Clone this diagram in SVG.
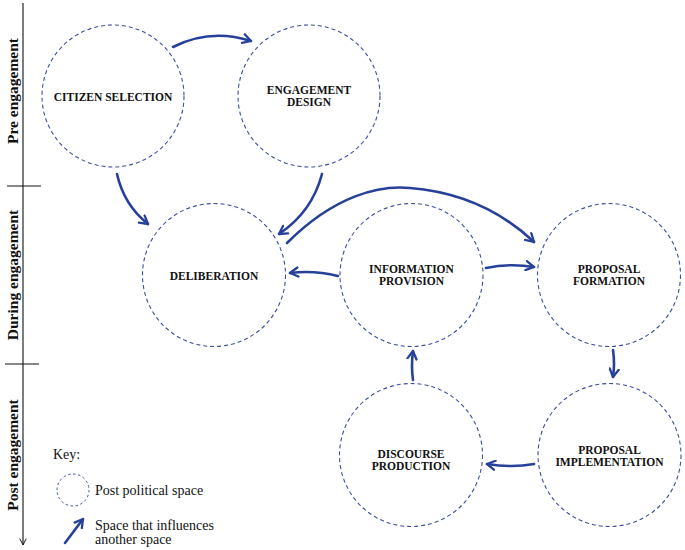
<svg xmlns="http://www.w3.org/2000/svg" width="685" height="550" viewBox="0 0 685 550">
<style>
.node{fill:none;stroke:#3b4f9c;stroke-width:1.1;stroke-dasharray:4 3}
.lbl{font-family:"Liberation Serif","Times New Roman",serif;font-weight:bold;font-size:11.5px;fill:#111;text-anchor:middle}
.phase{font-family:"Liberation Serif","Times New Roman",serif;font-weight:bold;font-size:15.5px;fill:#111;text-anchor:middle}
.key{font-family:"Liberation Serif","Times New Roman",serif;font-size:14px;fill:#111}
.conn{fill:none;stroke:#27419a;stroke-width:2.6;stroke-linecap:round;marker-end:url(#ah)}
</style>
<defs>
<marker id="ah" viewBox="0 0 10 10" refX="8" refY="5" markerWidth="4.4" markerHeight="4.4" orient="auto" markerUnits="strokeWidth">
<path d="M1,1 L8,5 L1,9" fill="none" stroke="#27419a" stroke-width="2" stroke-linecap="round" stroke-linejoin="round"/>
</marker>
<marker id="axh" viewBox="0 0 10 10" refX="9" refY="5" markerWidth="8" markerHeight="8" orient="auto" markerUnits="userSpaceOnUse">
<path d="M1,1 L9,5 L1,9" fill="none" stroke="#111" stroke-width="1.2"/>
</marker>
</defs>
<rect width="685" height="550" fill="#fff"/>
<g id="axis">
<line x1="23" y1="3" x2="23" y2="545" stroke="#111" stroke-width="1.1" marker-end="url(#axh)"/>
<line x1="7" y1="186" x2="41" y2="186" stroke="#111" stroke-width="1.1"/>
<line x1="5" y1="364" x2="39" y2="364" stroke="#111" stroke-width="1.1"/>
<text class="phase" transform="translate(18,91) rotate(-90)">Pre engagement</text>
<text class="phase" transform="translate(18,275) rotate(-90)">During engagement</text>
<text class="phase" transform="translate(18,455) rotate(-90)">Post engagement</text>
</g>
<g id="citizen-selection">
<circle class="node" cx="113" cy="96" r="71"/>
<text class="lbl" x="113" y="101">CITIZEN SELECTION</text>
</g>
<g id="engagement-design">
<circle class="node" cx="309" cy="96" r="71"/>
<text class="lbl" x="309" y="94">ENGAGEMENT</text>
<text class="lbl" x="309" y="106">DESIGN</text>
</g>
<g id="deliberation">
<circle class="node" cx="214" cy="275" r="71.5"/>
<text class="lbl" x="214" y="280">DELIBERATION</text>
</g>
<g id="information-provision">
<circle class="node" cx="411.5" cy="275" r="71.5"/>
<text class="lbl" x="411.5" y="273">INFORMATION</text>
<text class="lbl" x="411.5" y="285">PROVISION</text>
</g>
<g id="proposal-formation">
<circle class="node" cx="609" cy="275" r="71.5"/>
<text class="lbl" x="609" y="273">PROPOSAL</text>
<text class="lbl" x="609" y="285">FORMATION</text>
</g>
<g id="discourse-production">
<circle class="node" cx="411" cy="455" r="71.5"/>
<text class="lbl" x="411" y="458">DISCOURSE</text>
<text class="lbl" x="411" y="470">PRODUCTION</text>
</g>
<g id="proposal-implementation">
<circle class="node" cx="609.5" cy="455" r="71.5"/>
<text class="lbl" x="609.5" y="454">PROPOSAL</text>
<text class="lbl" x="609.5" y="466">IMPLEMENTATION</text>
</g>
<g id="connectors">
<path class="conn" d="M173,47 Q210,28 251,41"/>
<path class="conn" d="M117,174 Q124,205 148,224"/>
<path class="conn" d="M322,174 Q312,212 279,234"/>
<path class="conn" d="M287,243 C335,195 380,185 410,188 C460,192 500,210 534,242"/>
<path class="conn" d="M338,276 Q314,270 290,273"/>
<path class="conn" d="M486,268 Q510,263 534,267"/>
<path class="conn" d="M613,350 Q615,364 613,377"/>
<path class="conn" d="M534,464 Q512,468 487,464"/>
<path class="conn" d="M413,380 Q411,366 413,351"/>
</g>
<g id="key">
<text class="key" x="53" y="459">Key:</text>
<circle cx="73" cy="490" r="16" fill="none" stroke="#3b4f9c" stroke-width="1" stroke-dasharray="2.5 2.5"/>
<text class="key" x="95" y="495">Post political space</text>
<path class="conn" d="M65,543 L83,519"/>
<text class="key" x="95" y="530">Space that influences</text>
<text class="key" x="95" y="544">another space</text>
</g>
</svg>
